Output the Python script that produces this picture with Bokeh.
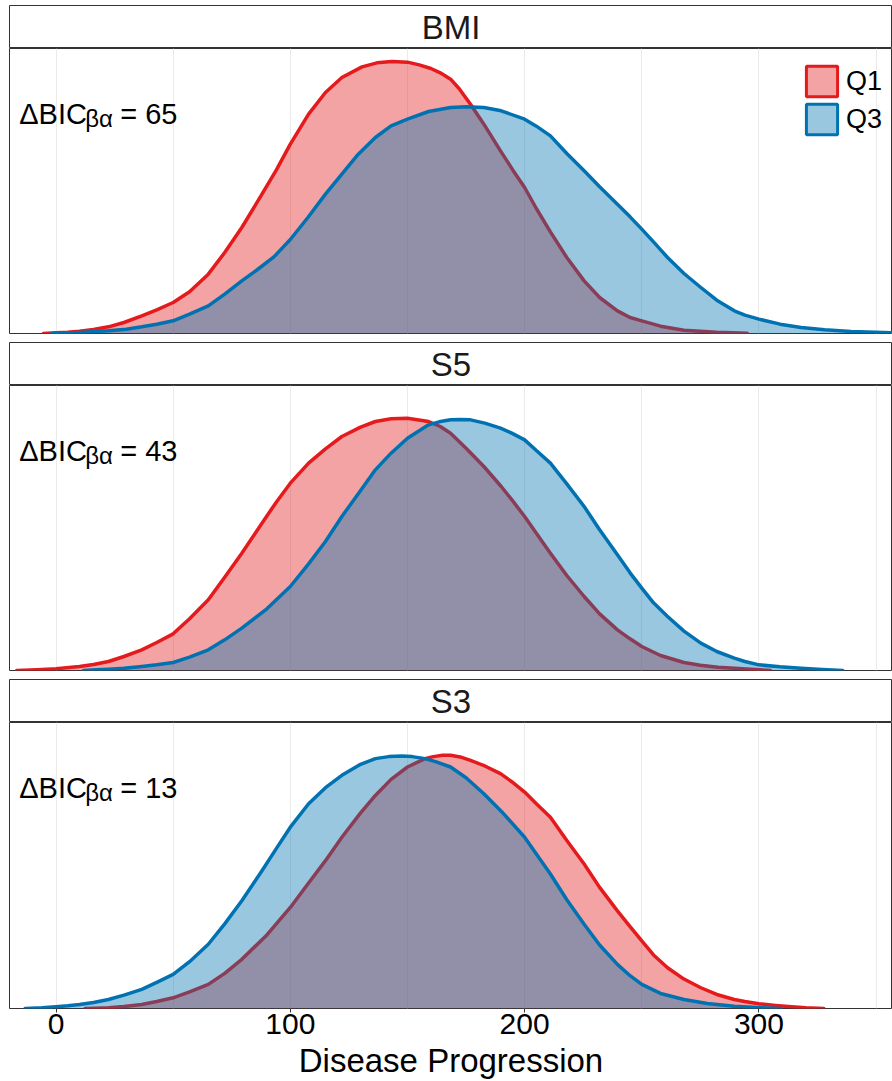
import numpy as np
from bokeh.plotting import figure
from bokeh.models import Range1d, FixedTicker, Grid, Label, Legend, LegendItem
from bokeh.layouts import column
from bokeh.embed import file_html
from bokeh.resources import INLINE

# ---------------- data (density values in units of 1e-5) ----------------
panel_names = ["BMI", "S5", "S3"]
delta_bic = [65, 43, 13]
group_labels = ["Q1", "Q3"]
x_ticks = [0, 100, 200, 300]
x_minor_ticks = [-50, 50, 150, 250, 350]
x_label = "Disease Progression"

bmi_q1_x = [-5.4, 0, 5, 10, 16, 22.4, 29, 36.6, 43, 50, 57, 65, 72, 79.3, 87.9, 94, 100, 107.8, 115, 122,
            130.6, 137, 143.4, 150, 155, 160, 164, 168.4, 172, 176.9, 182.6, 189.7, 195, 200, 205, 211,
            218, 225.4, 232, 239.6, 245, 250, 258, 268, 282, 295]
bmi_q1_y = [0, 2, 4, 7, 12, 20, 33, 53, 71, 93, 125, 178, 243, 318, 418, 490, 568, 658, 723, 768,
            800, 812, 816, 814, 806, 795, 782, 763, 735, 688, 628, 548, 490, 438, 375, 305,
            228, 158, 108, 68, 48, 38, 22, 10, 4, 1]

bmi_q3_x = [-1.8, 10, 22.4, 30, 36.6, 43, 50, 57, 65, 72, 79.3, 86, 93, 100, 107.5, 115, 122, 129, 136.3,
            143, 150, 159, 168.4, 175, 182.6, 190, 200, 205, 211, 218, 225.4, 232, 239.6, 245, 250,
            255, 261, 268, 275.2, 282, 289.5, 294, 300, 309, 318, 328, 339.3, 360]
bmi_q3_y = [0, 3, 8, 13, 20, 28, 38, 58, 83, 118, 158, 192, 230, 282, 348, 418, 478, 538, 588,
            623, 643, 666, 678, 680, 678, 668, 643, 622, 593, 540, 488, 440, 388, 350, 313,
            275, 228, 180, 138, 100, 68, 55, 43, 28, 18, 11, 6, 2]

s5_q1_x = [-16.8, -8, 0, 10, 16, 22.4, 29, 36.6, 43, 50, 57, 65, 72, 79.3, 87.9, 94, 100, 107.8, 115,
           122, 130, 136.3, 143, 150, 159, 164, 168.4, 175, 182.6, 190, 195, 200, 205, 211, 218,
           225.4, 232, 239.6, 245, 250, 258, 268, 275, 282.5, 293, 305]
s5_q1_y = [0, 2, 5, 12, 18, 27, 42, 62, 84, 110, 155, 212, 280, 352, 442, 505, 562, 622, 665,
           702, 730, 747, 755, 757, 747, 732, 712, 667, 612, 552, 508, 462, 412, 352, 285,
           222, 170, 122, 95, 72, 45, 24, 16, 10, 5, 0]

s5_q3_x = [11.7, 17, 22.4, 29, 36.6, 43, 50, 57, 65, 72, 79.3, 90, 100, 107.8, 115, 122, 130, 136.3,
           143, 150, 159, 163.5, 168.4, 172.5, 176.9, 183, 189.7, 194.5, 200, 205, 211, 218, 225.4,
           232, 239.6, 245, 250, 255, 261, 268, 275.2, 282, 289.5, 294, 300, 309, 318, 327, 335.8]
s5_q3_y = [0, 2, 4, 7, 12, 17, 24, 40, 62, 92, 127, 185, 252, 320, 387, 462, 540, 602,
           652, 697, 737, 746, 752, 753, 752, 742, 727, 712, 692, 660, 622, 560, 492,
           422, 347, 293, 247, 203, 162, 118, 82, 57, 37, 27, 17, 11, 7, 3, 0]

s3_q1_x = [12.4, 17, 22.4, 29, 36.6, 43, 50, 57, 65, 72, 79.3, 90, 100, 107.8, 115, 122, 130, 136.3,
           143, 150, 157.5, 161, 165, 168.4, 172.5, 176.9, 183, 189.7, 194.5, 200, 205, 211, 218,
           225.4, 232, 239.6, 245, 250, 255, 261, 268, 275.2, 282, 289.5, 294, 300, 307, 314, 320, 327.7]
s3_q1_y = [0, 1, 2, 6, 12, 21, 32, 50, 72, 105, 147, 220, 302, 375, 442, 512, 585, 637,
           685, 722, 747, 753, 757, 757, 752, 742, 725, 702, 678, 647, 612, 572, 502,
           432, 362, 292, 245, 202, 160, 122, 88, 62, 42, 27, 21, 14, 9, 5, 2, 0]

s3_q3_x = [-13.2, -6, 0, 5, 10, 16, 22.4, 29, 36.6, 43, 50, 57, 65, 72, 79.3, 87.9, 94, 100, 107.8,
           115, 122, 130, 136.3, 142, 147.6, 152, 157.5, 162, 168.4, 175, 182.6, 190, 200, 205, 211,
           218, 225.4, 232, 239.6, 245, 250, 258, 268, 278, 289.5, 299, 309.4]
s3_q3_y = [0, 2, 5, 8, 12, 18, 27, 40, 57, 78, 102, 140, 192, 253, 322, 412, 478, 542, 612,
           660, 697, 730, 747, 753, 755, 753, 747, 738, 722, 690, 642, 590, 512, 462, 402,
           325, 252, 190, 132, 98, 72, 45, 27, 15, 7, 3, 0]

curves = [
    ((bmi_q1_x, bmi_q1_y), (bmi_q3_x, bmi_q3_y)),
    ((s5_q1_x, s5_q1_y), (s5_q3_x, s5_q3_y)),
    ((s3_q1_x, s3_q1_y), (s3_q3_x, s3_q3_y)),
]
Y_UNIT = 1e-5

# ---------------- style ----------------
FONT = "Liberation Sans"
COLORS = ["#E41A1C", "#0072B2"]
EDGE = "#333333"
GRID = "#EBEBEB"
FRAME_W = 883
LEFT = 9

x_range = Range1d(-19.85, 357.0)
y_range = Range1d(0, 855 * Y_UNIT)


def make_strip(name, frame_h, top):
    s = figure(frame_width=FRAME_W, frame_height=frame_h,
               min_border_left=LEFT, min_border_right=0, min_border_top=top, min_border_bottom=0,
               x_range=Range1d(0, 1), y_range=Range1d(0, 1),
               x_axis_location=None, y_axis_location=None,
               toolbar_location=None, output_backend="svg")
    for g in s.grid:
        g.visible = False
    s.outline_line_color = EDGE
    s.outline_line_width = 1
    s.background_fill_color = "white"
    s.border_fill_color = "white"
    s.add_layout(Label(x=0.5, y=0.5, text=name, text_align="center", text_baseline="middle",
                       text_font=FONT, text_font_size="33px", text_color="#1A1A1A"))
    return s


def make_panel(idx, last):
    p = figure(frame_width=FRAME_W, frame_height=286 if last else 285,
               min_border_left=LEFT, min_border_right=0, min_border_top=0,
               min_border_bottom=0 if last else 8,
               x_range=x_range, y_range=y_range,
               x_axis_location="below" if last else None, y_axis_location=None,
               toolbar_location=None, output_backend="svg")
    for g in p.grid:
        g.visible = False
    p.add_layout(Grid(dimension=0, ticker=FixedTicker(ticks=x_ticks, minor_ticks=x_minor_ticks),
                      grid_line_color=GRID, grid_line_width=1,
                      minor_grid_line_color=GRID, minor_grid_line_width=1), "center")
    p.outline_line_color = EDGE
    p.outline_line_width = 1
    p.background_fill_color = "white"
    p.border_fill_color = "white"

    legend_rs = []
    for (xs, ys), col in zip(curves[idx], COLORS):
        xa = np.array(xs, dtype=float)
        ya = np.array(ys, dtype=float) * Y_UNIT
        p.varea(x=xa, y1=np.zeros_like(ya), y2=ya, fill_color=col, fill_alpha=0.4)
        p.line(xa, ya, line_color=col, line_width=3.5, line_join="round", line_cap="round")
        # key glyph only (NaN placeholder: draws nothing in the panel)
        legend_rs.append(p.quad(left=[np.nan], right=[np.nan], top=[np.nan], bottom=[np.nan],
                                fill_color=col, fill_alpha=0.4, line_color=col, line_width=3))

    ytext = 855 * Y_UNIT * (1 - 65 / 285)
    xtext = -15.7
    p.add_layout(Label(x=xtext, y=ytext, text="\u0394BIC", text_font=FONT, text_font_size="29px",
                       text_baseline="alphabetic", text_color="black"))
    p.add_layout(Label(x=xtext, y=ytext, x_offset=66, y_offset=-5, text="\u03b2\u03b1", text_font=FONT,
                       text_font_size="24px", text_baseline="alphabetic", text_color="black"))
    p.add_layout(Label(x=xtext, y=ytext, x_offset=101, text="= %d" % delta_bic[idx], text_font=FONT,
                       text_font_size="29px", text_baseline="alphabetic", text_color="black"))

    if idx == 0:
        legend = Legend(items=[LegendItem(label=lab, renderers=[r]) for lab, r in zip(group_labels, legend_rs)],
                        location=(793, 195), glyph_width=39, glyph_height=38, label_standoff=5,
                        spacing=-1, padding=0, margin=0, border_line_color=None,
                        background_fill_alpha=0, label_text_font=FONT, label_text_font_size="27px",
                        label_text_color="black", label_height=31)
        p.add_layout(legend)

    if last:
        ax = p.xaxis[0]
        ax.ticker = FixedTicker(ticks=x_ticks)
        ax.axis_label = x_label
        ax.axis_label_text_font = FONT
        ax.axis_label_text_font_size = "33px"
        ax.axis_label_text_font_style = "normal"
        ax.axis_label_text_color = "black"
        ax.axis_label_standoff = 5
        ax.major_label_text_font = FONT
        ax.major_label_text_font_size = "30px"
        ax.major_label_text_color = "black"
        ax.major_label_standoff = 1
        ax.major_tick_out = 4
        ax.major_tick_in = 0
        ax.minor_tick_out = 0
        ax.minor_tick_in = 0
        ax.major_tick_line_color = EDGE
        ax.axis_line_color = None
    return p


children = []
strip_frames = [43, 43, 43]
strip_tops = [5, 1, 1]
for i, name in enumerate(panel_names):
    children.append(make_strip(name, strip_frames[i], strip_tops[i]))
    children.append(make_panel(i, i == len(panel_names) - 1))

layout = column(children, spacing=0)
open("out.html", "w").write(file_html(layout, INLINE))
